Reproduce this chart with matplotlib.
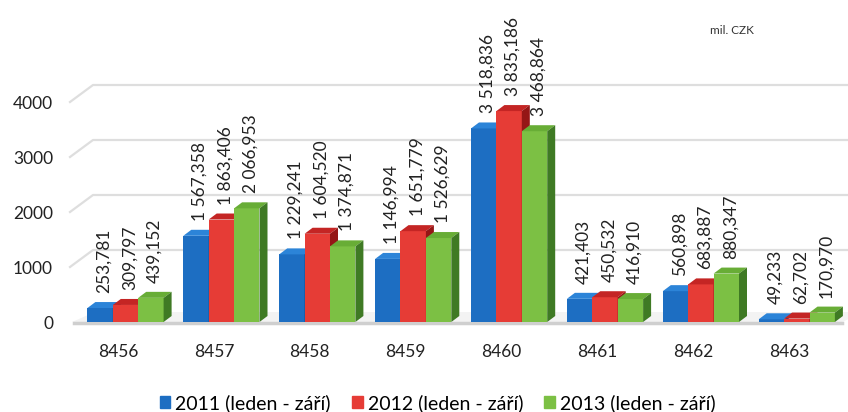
import numpy as np
import matplotlib.pyplot as plt
from matplotlib.patches import Polygon, Patch

plt.rcParams['font.family'] = ['Lato', 'DejaVu Sans']

categories = ['8456', '8457', '8458', '8459', '8460', '8461', '8462', '8463']
v2011 = [253.781, 1567.358, 1229.241, 1146.994, 3518.836, 421.403, 560.898, 49.233]
v2012 = [309.797, 1863.406, 1604.520, 1651.779, 3835.186, 450.532, 683.887, 62.702]
v2013 = [439.152, 2066.953, 1374.871, 1526.629, 3468.864, 416.910, 880.347, 170.970]
series = ['2011 (leden - září)', '2012 (leden - září)', '2013 (leden - září)']
yticks = [0, 1000, 2000, 3000, 4000]

# front, top, side colours
cols = [('#1d6ec2', '#2c84d8', '#0f4a8c'),
        ('#e63c36', '#c42524', '#951616'),
        ('#7cc044', '#68ad36', '#3f7a24')]

# pixel geometry of the picture
PX = 95.9       # px per category
PY = 0.055      # px per unit
X0, Y0 = 125.5, 322


def xd(px):
    return (px - X0) / PX


def yd(py):
    return (Y0 - py) / PY


def fmt(v):
    s = '{:,.3f}'.format(v)
    return s.replace(',', ' ').replace('.', ',')


fig = plt.figure(figsize=(8.48, 4.12), dpi=100)
ax = fig.add_axes([0, 0, 1, 1])
ax.set_xlim(xd(0), xd(848))
ax.set_ylim(yd(412), yd(0))
ax.axis('off')

# back wall grid with the slanted part on the side wall
wdx, wdy = 23 / PX, 17 / PY
for v in yticks[1:]:
    ax.plot([xd(70), xd(70) + wdx, xd(848)], [v, v + wdy, v + wdy],
            color='#dedede', lw=1.6, zorder=0)
for v in yticks:
    ax.text(xd(53), v - 40, str(v), ha='right', va='center', fontsize=12.5, color='#222222')

# floor
ax.add_patch(Polygon([(xd(72), 0), (xd(842), 0), (xd(842) + wdx, 10 / PY), (xd(72) + wdx, 10 / PY)],
                     closed=True, fc='#f3f3f3', ec='none', zorder=0))
ax.plot([xd(74), xd(842)], [-20, -20], color='#cfcfcf', lw=2.5, zorder=0)

x = np.arange(len(categories))
w = 25.4 / PX
ddx, ddy = 8 / PX, 6 / PY
data = [v2011, v2012, v2013]
for s, vals in enumerate(data):
    front, top, side = cols[s]
    xl = x - 1.5 * w + s * w
    ax.bar(xl, vals, width=w, align='edge', color=front, zorder=2 + s)
    for xi, v in zip(xl, vals):
        ax.add_patch(Polygon([(xi, v), (xi + w, v), (xi + w + ddx, v + ddy), (xi + ddx, v + ddy)],
                             closed=True, fc=top, ec='none', zorder=2 + s))
        ax.add_patch(Polygon([(xi + w, 0), (xi + w, v), (xi + w + ddx, v + ddy), (xi + w + ddx, ddy)],
                             closed=True, fc=side, ec='none', zorder=2 + s))
        ax.text(xi + w / 2 + ddx / 2, v + 15 / PY, fmt(v), rotation=90, ha='center', va='bottom',
                fontsize=12.5, color='#222222', zorder=10)

for i, c in enumerate(categories):
    ax.text(i - 7.5 / PX, yd(352), c, ha='center', va='center', fontsize=12.5, color='#222222')

ax.text(xd(732), yd(31), 'mil. CZK', ha='center', va='center', fontsize=8.5, color='#333333')

handles = [Patch(color=cols[s][0]) for s in range(3)]
fig.legend(handles, series, loc='center', bbox_to_anchor=(0.516, 0.022), ncol=3, frameon=False,
           fontsize=14, handlelength=0.55, handleheight=0.55, handletextpad=0.25, columnspacing=1.1)

fig.savefig('out.png', dpi=100)
